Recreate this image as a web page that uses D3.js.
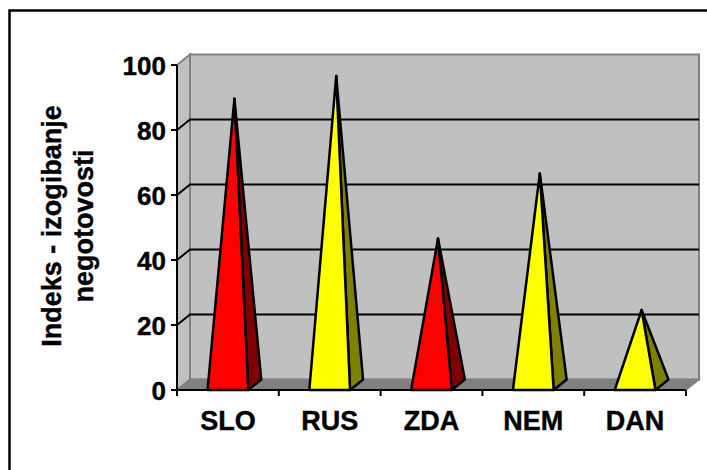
<!DOCTYPE html>
<meta charset='utf-8'>
<style>
  body { margin: 0; background: #fff; }
  text { font-family: Arial, "Liberation Sans", sans-serif; font-weight: bold; fill: #000; stroke: #000; stroke-width: 0.4px; }
</style>
<svg width="707" height="470"></svg>
<script src="https://cdn.jsdelivr.net/npm/d3@7"></script>
<script>

// data
var categories = ["SLO", "RUS", "ZDA", "NEM", "DAN"];
var values = [88, 95, 45, 65, 23];
var frontColors = ["#ff0000", "#ffff00", "#ff0000", "#ffff00", "#ffff00"];
var sideColors = ["#800000", "#808000", "#800000", "#808000", "#808000"];
var yTicks = [0, 20, 40, 60, 80, 100];
var yTitle = ["Indeks - izogibanje", "negotovosti"];

var svg = d3.select("svg");

// 3d depth offset of the back wall
var dx = 13, dy = -10.5;

var x = d3.scaleBand().domain(categories).range([177, 686]).padding(0);
var y = d3.scaleLinear().domain([0, 100]).range([390, 65]);

// outer frame (runs off the right/bottom of the picture)
svg.append("rect")
  .attr("x", 9.5).attr("y", 10.5)
  .attr("width", 720).attr("height", 480)
  .attr("fill", "none").attr("stroke", "#000").attr("stroke-width", 2.5);

var x0 = x.range()[0], x1 = x.range()[1], yb = y(0), yt = y(100);

// back wall
svg.append("rect")
  .attr("x", x0 + dx).attr("y", yt + dy)
  .attr("width", x1 - x0).attr("height", yb - yt)
  .attr("fill", "#c0c0c0").attr("stroke", "#808080").attr("stroke-width", 2);

// side wall
svg.append("polygon")
  .attr("points", [[x0, yt], [x0 + dx, yt + dy], [x0 + dx, yb + dy], [x0, yb]].join(" "))
  .attr("fill", "#c0c0c0").attr("stroke", "#808080").attr("stroke-width", 2);

// floor
svg.append("polygon")
  .attr("points", [[x0, yb], [x0 + dx, yb + dy], [x1 + dx, yb + dy], [x1, yb]].join(" "))
  .attr("fill", "#808080").attr("stroke", "#808080").attr("stroke-width", 1.5);

// gridlines
var grid = yTicks.filter(function(d) { return d > 0 && d < 100; });
svg.selectAll(".grid").data(grid).enter().append("polyline")
  .attr("class", "grid")
  .attr("points", function(d) { return [[x0, y(d)], [x0 + dx, y(d) + dy], [x1 + dx, y(d) + dy]].join(" "); })
  .attr("fill", "none").attr("stroke", "#000").attr("stroke-width", 2);

// axes
svg.append("line")
  .attr("x1", x0).attr("x2", x0).attr("y1", yt).attr("y2", yb)
  .attr("stroke", "#000").attr("stroke-width", 2);
svg.append("line")
  .attr("x1", x0).attr("x2", x1).attr("y1", yb).attr("y2", yb)
  .attr("stroke", "#000").attr("stroke-width", 2);

svg.selectAll(".ytick").data(yTicks).enter().append("line")
  .attr("x1", x0 - 6).attr("x2", x0).attr("y1", function(d) { return y(d); }).attr("y2", function(d) { return y(d); })
  .attr("stroke", "#000").attr("stroke-width", 2);

var xticks = categories.map(function(c) { return x(c); }).concat([x1]);
svg.selectAll(".xtick").data(xticks).enter().append("line")
  .attr("x1", function(d) { return d; }).attr("x2", function(d) { return d; })
  .attr("y1", yb).attr("y2", yb + 6)
  .attr("stroke", "#000").attr("stroke-width", 2);

// pyramids
var hw = x.bandwidth() * 0.2;
var g = svg.append("g");
categories.forEach(function(c, i) {
  var cx = x(c) + x.bandwidth() / 2;
  var apex = [cx + dx / 2, y(values[i]) + dy / 2];
  var fl = [cx - hw, yb], fr = [cx + hw, yb], br = [cx + hw + dx, yb + dy];
  g.append("polygon")
    .attr("points", [fr, br, apex].join(" "))
    .attr("fill", sideColors[i]).attr("stroke", "#000").attr("stroke-width", 2.5)
    .attr("stroke-linejoin", "round");
  g.append("polygon")
    .attr("points", [fl, fr, apex].join(" "))
    .attr("fill", frontColors[i]).attr("stroke", "#000").attr("stroke-width", 2.5)
    .attr("stroke-linejoin", "round");
});

// tick labels
svg.selectAll(".ylab").data(yTicks).enter().append("text")
  .attr("x", x0 - 11).attr("y", function(d) { return y(d) + 9.5; })
  .attr("text-anchor", "end").style("font-size", "26px")
  .text(function(d) { return d; });

svg.selectAll(".xlab").data(categories).enter().append("text")
  .attr("x", function(d) { return x(d) + x.bandwidth() / 2; }).attr("y", 430)
  .attr("text-anchor", "middle").style("font-size", "27px")
  .text(function(d) { return d; });

// axis title
svg.selectAll(".ytitle").data(yTitle).enter().append("text")
  .attr("transform", function(d, i) { return "translate(" + (61 + i * 32) + ",226) rotate(-90)"; })
  .attr("text-anchor", "middle").style("font-size", "27px")
  .text(function(d) { return d; });

</script>
